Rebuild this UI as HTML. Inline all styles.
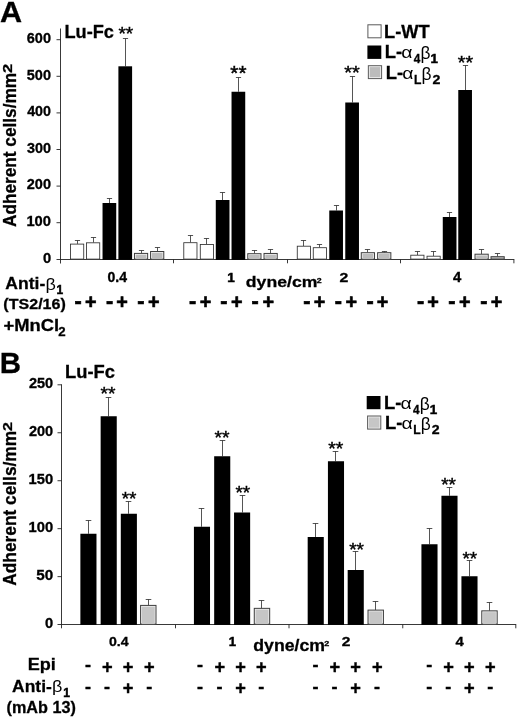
<!DOCTYPE html>
<html><head><meta charset="utf-8"><title>Figure</title>
<style>
html,body{margin:0;padding:0;background:#fff}
svg{display:block;font-family:"Liberation Sans",sans-serif;fill:#000;will-change:transform}
</style></head><body>
<svg width="520" height="723" viewBox="0 0 520 723">
<rect width="520" height="723" fill="#fff"/>
<text transform="translate(-0.05,21.50) scale(1.0200,1.0080)" font-size="30" font-weight="bold" stroke="#000" stroke-width="0.3">A</text>
<text transform="translate(64.52,37.80) scale(1.0099,1.0216)" font-size="18" font-weight="bold" stroke="#000" stroke-width="0.3">Lu-Fc</text>
<path d="M60.5 28.5V263.5M56.5 259.5H514.3" stroke="#222" stroke-width="0.9" fill="none"/>
<path d="M56.5 39.70H60.5" stroke="#222" stroke-width="0.9"/>
<text transform="translate(26.78,43.00) scale(1.0343,1.0448)" font-size="14" font-weight="bold" stroke="#000" stroke-width="0.3">600</text>
<path d="M56.5 76.30H60.5" stroke="#222" stroke-width="0.9"/>
<text transform="translate(26.78,79.60) scale(1.0343,1.0448)" font-size="14" font-weight="bold" stroke="#000" stroke-width="0.3">500</text>
<path d="M56.5 112.90H60.5" stroke="#222" stroke-width="0.9"/>
<text transform="translate(27.13,116.20) scale(1.0191,1.0448)" font-size="14" font-weight="bold" stroke="#000" stroke-width="0.3">400</text>
<path d="M56.5 149.50H60.5" stroke="#222" stroke-width="0.9"/>
<text transform="translate(26.96,152.80) scale(1.0267,1.0448)" font-size="14" font-weight="bold" stroke="#000" stroke-width="0.3">300</text>
<path d="M56.5 186.10H60.5" stroke="#222" stroke-width="0.9"/>
<text transform="translate(26.78,189.40) scale(1.0343,1.0448)" font-size="14" font-weight="bold" stroke="#000" stroke-width="0.3">200</text>
<path d="M56.5 222.70H60.5" stroke="#222" stroke-width="0.9"/>
<text transform="translate(26.42,226.00) scale(1.0500,1.0448)" font-size="14" font-weight="bold" stroke="#000" stroke-width="0.3">100</text>
<text transform="translate(42.88,262.60) scale(1.0500,1.0448)" font-size="14" font-weight="bold" stroke="#000" stroke-width="0.3">0</text>
<path d="M173.5 259.5V263.3" stroke="#222" stroke-width="0.9"/>
<path d="M287.5 259.5V263.3" stroke="#222" stroke-width="0.9"/>
<path d="M400.5 259.5V263.3" stroke="#222" stroke-width="0.9"/>
<path d="M513.9 259.5V263.3" stroke="#222" stroke-width="0.9"/>
<path d="M77.50 243.90V240.50M74.90 240.50H80.10" stroke="#2a2a2a" stroke-width="0.8" fill="none"/>
<rect x="70.53" y="244.10" width="13.20" height="15.00" fill="#fff" stroke="#303030" stroke-width="0.85"/>
<path d="M93.50 242.60V237.50M90.90 237.50H96.10" stroke="#2a2a2a" stroke-width="0.8" fill="none"/>
<rect x="86.53" y="242.80" width="13.20" height="16.30" fill="#fff" stroke="#303030" stroke-width="0.85"/>
<path d="M109.50 203.00V198.50M106.90 198.50H112.10" stroke="#2a2a2a" stroke-width="0.8" fill="none"/>
<rect x="102.53" y="203.00" width="13.70" height="56.90" fill="#000"/>
<path d="M125.50 66.30V38.50M122.90 38.50H128.10" stroke="#2a2a2a" stroke-width="0.8" fill="none"/>
<rect x="118.40" y="66.30" width="13.70" height="193.60" fill="#000"/>
<path d="M141.50 253.20V250.50M138.90 250.50H144.10" stroke="#2a2a2a" stroke-width="0.8" fill="none"/>
<rect x="134.45" y="253.40" width="13.20" height="5.70" fill="#efefef" stroke="#3c3c3c" stroke-width="1"/>
<rect x="135.75" y="254.70" width="10.60" height="4.40" fill="#bcbcbc"/>
<path d="M157.50 251.30V247.50M154.90 247.50H160.10" stroke="#2a2a2a" stroke-width="0.8" fill="none"/>
<rect x="150.58" y="251.50" width="13.20" height="7.60" fill="#efefef" stroke="#3c3c3c" stroke-width="1"/>
<rect x="151.88" y="252.80" width="10.60" height="6.30" fill="#bcbcbc"/>
<path d="M190.50 242.50V235.50M187.90 235.50H193.10" stroke="#2a2a2a" stroke-width="0.8" fill="none"/>
<rect x="183.78" y="242.70" width="13.20" height="16.40" fill="#fff" stroke="#303030" stroke-width="0.85"/>
<path d="M206.50 244.25V238.50M203.90 238.50H209.10" stroke="#2a2a2a" stroke-width="0.8" fill="none"/>
<rect x="200.28" y="244.45" width="13.20" height="14.65" fill="#fff" stroke="#303030" stroke-width="0.85"/>
<path d="M222.50 200.00V192.50M219.90 192.50H225.10" stroke="#2a2a2a" stroke-width="0.8" fill="none"/>
<rect x="215.78" y="200.00" width="13.70" height="59.90" fill="#000"/>
<path d="M238.50 91.75V77.50M235.90 77.50H241.10" stroke="#2a2a2a" stroke-width="0.8" fill="none"/>
<rect x="231.53" y="91.75" width="13.70" height="168.15" fill="#000"/>
<path d="M254.50 253.50V250.50M251.90 250.50H257.10" stroke="#2a2a2a" stroke-width="0.8" fill="none"/>
<rect x="247.78" y="253.70" width="13.20" height="5.40" fill="#efefef" stroke="#3c3c3c" stroke-width="1"/>
<rect x="249.08" y="255.00" width="10.60" height="4.10" fill="#bcbcbc"/>
<path d="M270.50 253.25V249.50M267.90 249.50H273.10" stroke="#2a2a2a" stroke-width="0.8" fill="none"/>
<rect x="264.02" y="253.45" width="13.20" height="5.65" fill="#efefef" stroke="#3c3c3c" stroke-width="1"/>
<rect x="265.32" y="254.75" width="10.60" height="4.35" fill="#bcbcbc"/>
<path d="M303.50 246.00V240.50M300.90 240.50H306.10" stroke="#2a2a2a" stroke-width="0.8" fill="none"/>
<rect x="297.27" y="246.20" width="13.20" height="12.90" fill="#fff" stroke="#303030" stroke-width="0.85"/>
<path d="M319.50 247.50V244.50M316.90 244.50H322.10" stroke="#2a2a2a" stroke-width="0.8" fill="none"/>
<rect x="313.27" y="247.70" width="13.20" height="11.40" fill="#fff" stroke="#303030" stroke-width="0.85"/>
<path d="M336.50 210.50V205.50M333.90 205.50H339.10" stroke="#2a2a2a" stroke-width="0.8" fill="none"/>
<rect x="329.27" y="210.50" width="13.70" height="49.40" fill="#000"/>
<path d="M352.50 102.50V76.50M349.90 76.50H355.10" stroke="#2a2a2a" stroke-width="0.8" fill="none"/>
<rect x="345.27" y="102.50" width="13.70" height="157.40" fill="#000"/>
<path d="M367.50 252.50V249.50M364.90 249.50H370.10" stroke="#2a2a2a" stroke-width="0.8" fill="none"/>
<rect x="361.27" y="252.70" width="13.20" height="6.40" fill="#efefef" stroke="#3c3c3c" stroke-width="1"/>
<rect x="362.57" y="254.00" width="10.60" height="5.10" fill="#bcbcbc"/>
<path d="M384.50 252.50V251.50M381.90 251.50H387.10" stroke="#2a2a2a" stroke-width="0.8" fill="none"/>
<rect x="377.65" y="252.70" width="13.20" height="6.40" fill="#efefef" stroke="#3c3c3c" stroke-width="1"/>
<rect x="378.95" y="254.00" width="10.60" height="5.10" fill="#bcbcbc"/>
<path d="M417.50 255.00V251.50M414.90 251.50H420.10" stroke="#2a2a2a" stroke-width="0.8" fill="none"/>
<rect x="410.77" y="255.20" width="13.20" height="3.90" fill="#fff" stroke="#303030" stroke-width="0.85"/>
<path d="M433.50 256.00V251.50M430.90 251.50H436.10" stroke="#2a2a2a" stroke-width="0.8" fill="none"/>
<rect x="427.02" y="256.20" width="13.20" height="2.90" fill="#fff" stroke="#303030" stroke-width="0.85"/>
<path d="M449.50 217.00V212.50M446.90 212.50H452.10" stroke="#2a2a2a" stroke-width="0.8" fill="none"/>
<rect x="442.77" y="217.00" width="13.70" height="42.90" fill="#000"/>
<path d="M465.50 90.00V65.50M462.90 65.50H468.10" stroke="#2a2a2a" stroke-width="0.8" fill="none"/>
<rect x="458.27" y="90.00" width="13.70" height="169.90" fill="#000"/>
<path d="M481.50 254.00V249.50M478.90 249.50H484.10" stroke="#2a2a2a" stroke-width="0.8" fill="none"/>
<rect x="475.02" y="254.20" width="13.20" height="4.90" fill="#efefef" stroke="#3c3c3c" stroke-width="1"/>
<rect x="476.32" y="255.50" width="10.60" height="3.60" fill="#bcbcbc"/>
<path d="M497.50 256.50V253.50M494.90 253.50H500.10" stroke="#2a2a2a" stroke-width="0.8" fill="none"/>
<rect x="491.02" y="256.70" width="13.20" height="2.40" fill="#bcbcbc" stroke="#3c3c3c" stroke-width="1"/>
<text transform="translate(118.38,40.25) scale(0.9506,0.9000)" font-size="20" font-weight="normal" stroke="#000" stroke-width="0.45">**</text>
<text transform="translate(230.36,80.18) scale(1.0348,0.9929)" font-size="20" font-weight="normal" stroke="#000" stroke-width="0.45">**</text>
<text transform="translate(344.17,79.20) scale(0.9978,0.9214)" font-size="20" font-weight="normal" stroke="#000" stroke-width="0.45">**</text>
<text transform="translate(457.87,68.70) scale(0.9843,0.9214)" font-size="20" font-weight="normal" stroke="#000" stroke-width="0.45">**</text>
<rect x="367.9" y="24.8" width="13.2" height="13" fill="#fff" stroke="#5a5a5a" stroke-width="1"/>
<rect x="367.4" y="45.5" width="13.9" height="13.4" fill="#000"/>
<rect x="368.35" y="65.7" width="13.25" height="12.9" fill="#efefef" stroke="#5a5a5a" stroke-width="1"/>
<rect x="369.75" y="67.1" width="10.45" height="10.1" fill="#bcbcbc"/>
<text transform="translate(384.12,37.80) scale(1.0145,1.0135)" font-size="18" font-weight="bold" stroke="#000" stroke-width="0.3">L-WT</text>
<text transform="translate(384.71,58.00) scale(1.0220,0.9892)" font-size="18" font-weight="bold" stroke="#000" stroke-width="0.3">L-</text>
<text transform="translate(401.30,58.44) scale(1.0778,0.9458)" font-size="18" font-weight="normal" >α</text>
<text transform="translate(413.64,63.20) scale(0.9450,1.0706)" font-size="12.5" font-weight="bold" stroke="#000" stroke-width="0.3">4</text>
<text transform="translate(420.57,59.15) scale(0.9647,0.9810)" font-size="18" font-weight="normal" >β</text>
<text transform="translate(430.59,63.20) scale(1.0706)" font-size="12.5" font-weight="bold" stroke="#000" stroke-width="0.5">1</text>
<text transform="translate(385.71,78.65) scale(1.0220,0.9892)" font-size="18" font-weight="bold" stroke="#000" stroke-width="0.3">L-</text>
<text transform="translate(402.30,79.09) scale(1.0778,0.9458)" font-size="18" font-weight="normal" >α</text>
<text transform="translate(413.99,83.85) scale(0.9692,1.0706)" font-size="12.5" font-weight="bold" stroke="#000" stroke-width="0.3">L</text>
<text transform="translate(421.57,79.80) scale(0.9647,0.9810)" font-size="18" font-weight="normal" >β</text>
<text transform="translate(432.43,83.85) scale(1.1333,1.0500)" font-size="12.5" font-weight="bold" stroke="#000" stroke-width="0.3">2</text>
<text transform="translate(15.70,227.00) rotate(-90) scale(1.0018,1.0160)" font-size="17.2" font-weight="bold" stroke="#000" stroke-width="0.3">Adherent cells/mm</text>
<text transform="translate(11.80,72.94) rotate(-90) scale(1.2811,0.9818)" font-size="13" font-weight="bold" stroke="#000" stroke-width="0.3">2</text>
<text transform="translate(107.56,281.70) scale(1.0800,1.0667)" font-size="13" font-weight="bold" stroke="#000" stroke-width="0.3">0.4</text>
<text transform="translate(227.30,281.70) scale(1.0444)" font-size="13" font-weight="bold" stroke="#000" stroke-width="0.5">1</text>
<text transform="translate(339.39,281.70) scale(1.2162,1.0473)" font-size="13" font-weight="bold" stroke="#000" stroke-width="0.3">2</text>
<text transform="translate(453.06,281.70) scale(1.1429,1.0667)" font-size="13" font-weight="bold" stroke="#000" stroke-width="0.3">4</text>
<text transform="translate(245.81,287.30) scale(1.0396,0.9162)" font-size="17" font-weight="bold" stroke="#000" stroke-width="0.3">dyne/cm</text>
<text transform="translate(316.83,282.90) scale(1.0957,0.9706)" font-size="8" font-weight="bold" stroke="#000" stroke-width="0.3">2</text>
<text transform="translate(5.30,289.40) scale(1.0034,0.9506)" font-size="17.5" font-weight="bold" stroke="#000" stroke-width="0.3">Anti-</text>
<text transform="translate(45.50,289.79) scale(1.0286,0.9576)" font-size="17.5" font-weight="normal" >β</text>
<text transform="translate(56.51,294.20) scale(0.9960)" font-size="12" font-weight="bold" stroke="#000" stroke-width="0.5">1</text>
<text transform="translate(3.36,309.20) scale(1.0038,0.9429)" font-size="16" font-weight="bold" stroke="#000" stroke-width="0.3">(TS2/16)</text>
<text transform="translate(3.50,330.90) scale(1.0495,0.9117)" font-size="17.5" font-weight="bold" stroke="#000" stroke-width="0.3">+MnCl</text>
<text transform="translate(58.29,335.80) scale(1.0216,0.9818)" font-size="13" font-weight="bold" stroke="#000" stroke-width="0.3">2</text>
<text transform="translate(74.40,307.54) scale(1.0800,1.0714)" font-size="20" font-weight="bold" stroke="#000" stroke-width="0.6">-</text>
<text transform="translate(84.97,309.17) scale(0.9900,1.0033)" font-size="20" font-weight="bold" stroke="#000" stroke-width="0.6">+</text>
<text transform="translate(105.90,307.54) scale(1.0800,1.0714)" font-size="20" font-weight="bold" stroke="#000" stroke-width="0.6">-</text>
<text transform="translate(116.22,309.17) scale(0.9900,1.0033)" font-size="20" font-weight="bold" stroke="#000" stroke-width="0.6">+</text>
<text transform="translate(137.15,307.54) scale(1.0800,1.0714)" font-size="20" font-weight="bold" stroke="#000" stroke-width="0.6">-</text>
<text transform="translate(147.98,309.17) scale(0.9900,1.0033)" font-size="20" font-weight="bold" stroke="#000" stroke-width="0.6">+</text>
<text transform="translate(188.90,307.54) scale(1.0800,1.0714)" font-size="20" font-weight="bold" stroke="#000" stroke-width="0.6">-</text>
<text transform="translate(199.73,309.17) scale(0.9900,1.0033)" font-size="20" font-weight="bold" stroke="#000" stroke-width="0.6">+</text>
<text transform="translate(220.15,307.54) scale(1.0800,1.0714)" font-size="20" font-weight="bold" stroke="#000" stroke-width="0.6">-</text>
<text transform="translate(230.98,309.17) scale(0.9900,1.0033)" font-size="20" font-weight="bold" stroke="#000" stroke-width="0.6">+</text>
<text transform="translate(251.40,307.54) scale(1.0800,1.0714)" font-size="20" font-weight="bold" stroke="#000" stroke-width="0.6">-</text>
<text transform="translate(262.48,309.17) scale(0.9900,1.0033)" font-size="20" font-weight="bold" stroke="#000" stroke-width="0.6">+</text>
<text transform="translate(303.15,307.54) scale(1.0800,1.0714)" font-size="20" font-weight="bold" stroke="#000" stroke-width="0.6">-</text>
<text transform="translate(313.73,309.17) scale(0.9900,1.0033)" font-size="20" font-weight="bold" stroke="#000" stroke-width="0.6">+</text>
<text transform="translate(334.65,307.54) scale(1.0800,1.0714)" font-size="20" font-weight="bold" stroke="#000" stroke-width="0.6">-</text>
<text transform="translate(345.48,309.17) scale(0.9900,1.0033)" font-size="20" font-weight="bold" stroke="#000" stroke-width="0.6">+</text>
<text transform="translate(366.40,307.54) scale(1.0800,1.0714)" font-size="20" font-weight="bold" stroke="#000" stroke-width="0.6">-</text>
<text transform="translate(376.73,309.17) scale(0.9900,1.0033)" font-size="20" font-weight="bold" stroke="#000" stroke-width="0.6">+</text>
<text transform="translate(416.90,307.54) scale(1.0800,1.0714)" font-size="20" font-weight="bold" stroke="#000" stroke-width="0.6">-</text>
<text transform="translate(427.23,309.17) scale(0.9900,1.0033)" font-size="20" font-weight="bold" stroke="#000" stroke-width="0.6">+</text>
<text transform="translate(448.15,307.54) scale(1.0800,1.0714)" font-size="20" font-weight="bold" stroke="#000" stroke-width="0.6">-</text>
<text transform="translate(458.98,309.17) scale(0.9900,1.0033)" font-size="20" font-weight="bold" stroke="#000" stroke-width="0.6">+</text>
<text transform="translate(480.15,307.54) scale(1.0800,1.0714)" font-size="20" font-weight="bold" stroke="#000" stroke-width="0.6">-</text>
<text transform="translate(490.73,309.17) scale(0.9900,1.0033)" font-size="20" font-weight="bold" stroke="#000" stroke-width="0.6">+</text>
<text transform="translate(-0.16,373.00) scale(0.9818,0.9919)" font-size="30" font-weight="bold" stroke="#000" stroke-width="0.3">B</text>
<text transform="translate(65.06,378.00) scale(1.0194,1.0054)" font-size="18" font-weight="bold" stroke="#000" stroke-width="0.3">Lu-Fc</text>
<path d="M61.5 384.3V628.3M57.5 624.5H516.2" stroke="#222" stroke-width="0.9" fill="none"/>
<path d="M57.5 384.80H61.5" stroke="#222" stroke-width="0.9"/>
<text transform="translate(28.88,388.20) scale(1.0388,1.0448)" font-size="14" font-weight="bold" stroke="#000" stroke-width="0.3">250</text>
<path d="M57.5 432.76H61.5" stroke="#222" stroke-width="0.9"/>
<text transform="translate(28.88,436.16) scale(1.0388,1.0448)" font-size="14" font-weight="bold" stroke="#000" stroke-width="0.3">200</text>
<path d="M57.5 480.72H61.5" stroke="#222" stroke-width="0.9"/>
<text transform="translate(28.52,484.12) scale(1.0545,1.0448)" font-size="14" font-weight="bold" stroke="#000" stroke-width="0.3">150</text>
<path d="M57.5 528.68H61.5" stroke="#222" stroke-width="0.9"/>
<text transform="translate(28.52,532.08) scale(1.0545,1.0448)" font-size="14" font-weight="bold" stroke="#000" stroke-width="0.3">100</text>
<path d="M57.5 576.64H61.5" stroke="#222" stroke-width="0.9"/>
<text transform="translate(36.26,580.04) scale(1.0897,1.0448)" font-size="14" font-weight="bold" stroke="#000" stroke-width="0.3">50</text>
<text transform="translate(45.08,628.00) scale(1.0500,1.0448)" font-size="14" font-weight="bold" stroke="#000" stroke-width="0.3">0</text>
<path d="M175.5 624.5V628.3" stroke="#222" stroke-width="0.9"/>
<path d="M289 624.5V628.3" stroke="#222" stroke-width="0.9"/>
<path d="M402.75 624.5V628.3" stroke="#222" stroke-width="0.9"/>
<path d="M515.8 624.5V628.3" stroke="#222" stroke-width="0.9"/>
<path d="M88.50 533.75V520.50M85.70 520.50H91.30" stroke="#2a2a2a" stroke-width="0.8" fill="none"/>
<rect x="80.38" y="533.75" width="16.10" height="91.15" fill="#000"/>
<path d="M108.50 416.25V397.50M105.70 397.50H111.30" stroke="#2a2a2a" stroke-width="0.8" fill="none"/>
<rect x="100.65" y="416.25" width="16.10" height="208.65" fill="#000"/>
<path d="M128.50 513.75V501.50M125.70 501.50H131.30" stroke="#2a2a2a" stroke-width="0.8" fill="none"/>
<rect x="120.80" y="513.75" width="16.10" height="111.15" fill="#000"/>
<path d="M148.50 605.30V599.50M145.70 599.50H151.30" stroke="#2a2a2a" stroke-width="0.8" fill="none"/>
<rect x="140.60" y="605.40" width="15.40" height="18.70" fill="#efefef" stroke="#3c3c3c" stroke-width="1"/>
<rect x="141.90" y="606.70" width="12.80" height="17.40" fill="#c6c6c6"/>
<path d="M201.50 526.75V508.50M198.70 508.50H204.30" stroke="#2a2a2a" stroke-width="0.8" fill="none"/>
<rect x="193.92" y="526.75" width="16.10" height="98.15" fill="#000"/>
<path d="M222.50 456.25V440.50M219.70 440.50H225.30" stroke="#2a2a2a" stroke-width="0.8" fill="none"/>
<rect x="214.17" y="456.25" width="16.10" height="168.65" fill="#000"/>
<path d="M242.50 512.50V495.50M239.70 495.50H245.30" stroke="#2a2a2a" stroke-width="0.8" fill="none"/>
<rect x="234.05" y="512.50" width="16.10" height="112.40" fill="#000"/>
<path d="M261.50 608.25V600.50M258.70 600.50H264.30" stroke="#2a2a2a" stroke-width="0.8" fill="none"/>
<rect x="254.28" y="608.35" width="15.40" height="15.75" fill="#efefef" stroke="#3c3c3c" stroke-width="1"/>
<rect x="255.58" y="609.65" width="12.80" height="14.45" fill="#c6c6c6"/>
<path d="M315.50 537.00V523.50M312.70 523.50H318.30" stroke="#2a2a2a" stroke-width="0.8" fill="none"/>
<rect x="307.68" y="537.00" width="16.10" height="87.90" fill="#000"/>
<path d="M335.50 461.25V451.50M332.70 451.50H338.30" stroke="#2a2a2a" stroke-width="0.8" fill="none"/>
<rect x="327.93" y="461.25" width="16.10" height="163.65" fill="#000"/>
<path d="M355.50 570.00V551.50M352.70 551.50H358.30" stroke="#2a2a2a" stroke-width="0.8" fill="none"/>
<rect x="347.68" y="570.00" width="16.10" height="54.90" fill="#000"/>
<path d="M375.50 610.00V601.50M372.70 601.50H378.30" stroke="#2a2a2a" stroke-width="0.8" fill="none"/>
<rect x="368.03" y="610.10" width="15.40" height="14.00" fill="#efefef" stroke="#3c3c3c" stroke-width="1"/>
<rect x="369.33" y="611.40" width="12.80" height="12.70" fill="#c6c6c6"/>
<path d="M429.50 544.25V528.50M426.70 528.50H432.30" stroke="#2a2a2a" stroke-width="0.8" fill="none"/>
<rect x="421.43" y="544.25" width="16.10" height="80.65" fill="#000"/>
<path d="M449.50 495.75V487.50M446.70 487.50H452.30" stroke="#2a2a2a" stroke-width="0.8" fill="none"/>
<rect x="441.43" y="495.75" width="16.10" height="129.15" fill="#000"/>
<path d="M469.50 576.25V560.50M466.70 560.50H472.30" stroke="#2a2a2a" stroke-width="0.8" fill="none"/>
<rect x="461.43" y="576.25" width="16.10" height="48.65" fill="#000"/>
<path d="M489.50 610.75V602.50M486.70 602.50H492.30" stroke="#2a2a2a" stroke-width="0.8" fill="none"/>
<rect x="481.78" y="610.85" width="15.40" height="13.25" fill="#efefef" stroke="#3c3c3c" stroke-width="1"/>
<rect x="483.08" y="612.15" width="12.80" height="11.95" fill="#c6c6c6"/>
<text transform="translate(100.38,399.95) scale(0.9640,0.8857)" font-size="20" font-weight="normal" stroke="#000" stroke-width="0.45">**</text>
<text transform="translate(121.63,505.44) scale(0.9506,0.9571)" font-size="20" font-weight="normal" stroke="#000" stroke-width="0.45">**</text>
<text transform="translate(214.38,444.39) scale(0.9674,0.9357)" font-size="20" font-weight="normal" stroke="#000" stroke-width="0.45">**</text>
<text transform="translate(235.38,499.39) scale(0.9506,0.9357)" font-size="20" font-weight="normal" stroke="#000" stroke-width="0.45">**</text>
<text transform="translate(328.13,454.65) scale(0.9674,0.9000)" font-size="20" font-weight="normal" stroke="#000" stroke-width="0.45">**</text>
<text transform="translate(349.13,555.85) scale(0.9506,0.9143)" font-size="20" font-weight="normal" stroke="#000" stroke-width="0.45">**</text>
<text transform="translate(441.13,490.74) scale(0.9506,0.9429)" font-size="20" font-weight="normal" stroke="#000" stroke-width="0.45">**</text>
<text transform="translate(462.38,564.95) scale(0.9506,0.9214)" font-size="20" font-weight="normal" stroke="#000" stroke-width="0.45">**</text>
<rect x="366.7" y="396" width="13.8" height="13.2" fill="#000"/>
<rect x="367.6" y="416" width="13.2" height="13.1" fill="#efefef" stroke="#5a5a5a" stroke-width="1"/>
<rect x="369" y="417.4" width="10.4" height="10.3" fill="#c6c6c6"/>
<text transform="translate(383.96,408.50) scale(1.0220,0.9892)" font-size="18" font-weight="bold" stroke="#000" stroke-width="0.3">L-</text>
<text transform="translate(400.55,408.94) scale(1.0778,0.9458)" font-size="18" font-weight="normal" >α</text>
<text transform="translate(412.89,413.70) scale(0.9450,1.0706)" font-size="12.5" font-weight="bold" stroke="#000" stroke-width="0.3">4</text>
<text transform="translate(419.82,409.65) scale(0.9647,0.9810)" font-size="18" font-weight="normal" >β</text>
<text transform="translate(429.84,413.70) scale(1.0706)" font-size="12.5" font-weight="bold" stroke="#000" stroke-width="0.5">1</text>
<text transform="translate(384.91,428.90) scale(1.0220,0.9892)" font-size="18" font-weight="bold" stroke="#000" stroke-width="0.3">L-</text>
<text transform="translate(401.50,429.34) scale(1.0778,0.9458)" font-size="18" font-weight="normal" >α</text>
<text transform="translate(413.19,434.10) scale(0.9692,1.0706)" font-size="12.5" font-weight="bold" stroke="#000" stroke-width="0.3">L</text>
<text transform="translate(420.77,430.05) scale(0.9647,0.9810)" font-size="18" font-weight="normal" >β</text>
<text transform="translate(431.63,434.10) scale(1.1333,1.0500)" font-size="12.5" font-weight="bold" stroke="#000" stroke-width="0.3">2</text>
<text transform="translate(15.60,585.70) rotate(-90) scale(1.0070,1.0160)" font-size="17.2" font-weight="bold" stroke="#000" stroke-width="0.3">Adherent cells/mm</text>
<text transform="translate(11.80,431.02) rotate(-90) scale(1.2324,0.9818)" font-size="13" font-weight="bold" stroke="#000" stroke-width="0.3">2</text>
<text transform="translate(108.96,646.00) scale(1.0857,1.0333)" font-size="13" font-weight="bold" stroke="#000" stroke-width="0.3">0.4</text>
<text transform="translate(228.82,646.00) scale(1.0111)" font-size="13" font-weight="bold" stroke="#000" stroke-width="0.5">1</text>
<text transform="translate(341.70,646.00) scale(1.2000,1.0145)" font-size="13" font-weight="bold" stroke="#000" stroke-width="0.3">2</text>
<text transform="translate(455.56,646.00) scale(1.1429,1.0333)" font-size="13" font-weight="bold" stroke="#000" stroke-width="0.3">4</text>
<text transform="translate(253.31,651.40) scale(1.0396,0.9486)" font-size="17" font-weight="bold" stroke="#000" stroke-width="0.3">dyne/cm</text>
<text transform="translate(324.33,646.20) scale(1.1217,0.9882)" font-size="8" font-weight="bold" stroke="#000" stroke-width="0.3">2</text>
<text transform="translate(27.69,670.00) scale(1.0349,0.9351)" font-size="17.5" font-weight="bold" stroke="#000" stroke-width="0.3">Epi</text>
<text transform="translate(12.10,692.30) scale(0.9983,0.9351)" font-size="17.5" font-weight="bold" stroke="#000" stroke-width="0.3">Anti-</text>
<text transform="translate(51.90,692.00) scale(1.0286,0.9273)" font-size="17.5" font-weight="normal" >β</text>
<text transform="translate(63.37,696.90) scale(1.0080)" font-size="12" font-weight="bold" stroke="#000" stroke-width="0.5">1</text>
<text transform="translate(6.56,713.10) scale(1.0130,0.9943)" font-size="16" font-weight="bold" stroke="#000" stroke-width="0.3">(mAb 13)</text>
<text transform="translate(85.00,670.43) scale(0.9000,0.8571)" font-size="20" font-weight="bold" stroke="#000" stroke-width="0.5">-</text>
<text transform="translate(101.94,672.54) scale(0.9100,0.8951)" font-size="20" font-weight="bold" stroke="#000" stroke-width="0.45">+</text>
<text transform="translate(122.79,672.54) scale(0.9100,0.8951)" font-size="20" font-weight="bold" stroke="#000" stroke-width="0.45">+</text>
<text transform="translate(144.09,672.54) scale(0.9100,0.8951)" font-size="20" font-weight="bold" stroke="#000" stroke-width="0.45">+</text>
<text transform="translate(85.00,692.43) scale(0.9000,0.8571)" font-size="20" font-weight="bold" stroke="#000" stroke-width="0.5">-</text>
<text transform="translate(104.05,692.43) scale(0.9000,0.8571)" font-size="20" font-weight="bold" stroke="#000" stroke-width="0.5">-</text>
<text transform="translate(122.79,693.84) scale(0.9100,0.8951)" font-size="20" font-weight="bold" stroke="#000" stroke-width="0.45">+</text>
<text transform="translate(146.20,692.43) scale(0.9000,0.8571)" font-size="20" font-weight="bold" stroke="#000" stroke-width="0.5">-</text>
<text transform="translate(197.00,670.43) scale(0.9000,0.8571)" font-size="20" font-weight="bold" stroke="#000" stroke-width="0.5">-</text>
<text transform="translate(214.44,672.54) scale(0.9100,0.8951)" font-size="20" font-weight="bold" stroke="#000" stroke-width="0.45">+</text>
<text transform="translate(235.29,672.54) scale(0.9100,0.8951)" font-size="20" font-weight="bold" stroke="#000" stroke-width="0.45">+</text>
<text transform="translate(256.09,672.54) scale(0.9100,0.8951)" font-size="20" font-weight="bold" stroke="#000" stroke-width="0.45">+</text>
<text transform="translate(197.00,692.43) scale(0.9000,0.8571)" font-size="20" font-weight="bold" stroke="#000" stroke-width="0.5">-</text>
<text transform="translate(216.55,692.43) scale(0.9000,0.8571)" font-size="20" font-weight="bold" stroke="#000" stroke-width="0.5">-</text>
<text transform="translate(235.29,693.84) scale(0.9100,0.8951)" font-size="20" font-weight="bold" stroke="#000" stroke-width="0.45">+</text>
<text transform="translate(258.20,692.43) scale(0.9000,0.8571)" font-size="20" font-weight="bold" stroke="#000" stroke-width="0.5">-</text>
<text transform="translate(312.50,670.43) scale(0.9000,0.8571)" font-size="20" font-weight="bold" stroke="#000" stroke-width="0.5">-</text>
<text transform="translate(329.44,672.54) scale(0.9100,0.8951)" font-size="20" font-weight="bold" stroke="#000" stroke-width="0.45">+</text>
<text transform="translate(350.29,672.54) scale(0.9100,0.8951)" font-size="20" font-weight="bold" stroke="#000" stroke-width="0.45">+</text>
<text transform="translate(371.99,672.54) scale(0.9100,0.8951)" font-size="20" font-weight="bold" stroke="#000" stroke-width="0.45">+</text>
<text transform="translate(312.50,692.43) scale(0.9000,0.8571)" font-size="20" font-weight="bold" stroke="#000" stroke-width="0.5">-</text>
<text transform="translate(331.55,692.43) scale(0.9000,0.8571)" font-size="20" font-weight="bold" stroke="#000" stroke-width="0.5">-</text>
<text transform="translate(350.29,693.84) scale(0.9100,0.8951)" font-size="20" font-weight="bold" stroke="#000" stroke-width="0.45">+</text>
<text transform="translate(374.10,692.43) scale(0.9000,0.8571)" font-size="20" font-weight="bold" stroke="#000" stroke-width="0.5">-</text>
<text transform="translate(426.25,670.43) scale(0.9000,0.8571)" font-size="20" font-weight="bold" stroke="#000" stroke-width="0.5">-</text>
<text transform="translate(443.19,672.54) scale(0.9100,0.8951)" font-size="20" font-weight="bold" stroke="#000" stroke-width="0.45">+</text>
<text transform="translate(464.09,672.54) scale(0.9100,0.8951)" font-size="20" font-weight="bold" stroke="#000" stroke-width="0.45">+</text>
<text transform="translate(485.09,672.54) scale(0.9100,0.8951)" font-size="20" font-weight="bold" stroke="#000" stroke-width="0.45">+</text>
<text transform="translate(426.25,692.43) scale(0.9000,0.8571)" font-size="20" font-weight="bold" stroke="#000" stroke-width="0.5">-</text>
<text transform="translate(445.30,692.43) scale(0.9000,0.8571)" font-size="20" font-weight="bold" stroke="#000" stroke-width="0.5">-</text>
<text transform="translate(464.09,693.84) scale(0.9100,0.8951)" font-size="20" font-weight="bold" stroke="#000" stroke-width="0.45">+</text>
<text transform="translate(487.20,692.43) scale(0.9000,0.8571)" font-size="20" font-weight="bold" stroke="#000" stroke-width="0.5">-</text>
</svg>
</body></html>
